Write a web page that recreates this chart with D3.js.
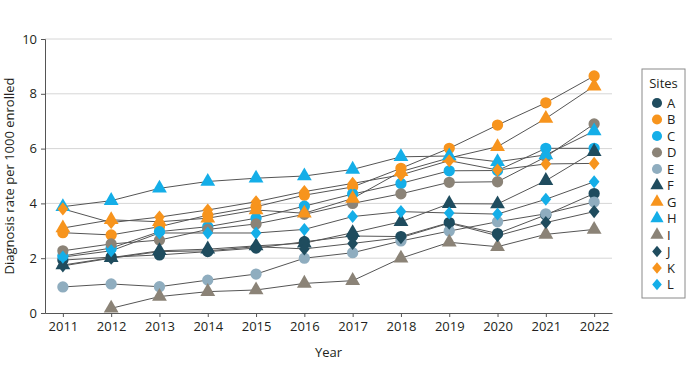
<!DOCTYPE html>
<html>
<head>
<meta charset="utf-8">
<script src="https://cdn.jsdelivr.net/npm/d3@7"></script>
<style>
  body { margin: 0; background: #fff; }
  text { font-family: "Open Sans", sans-serif; fill: #231f20; }
</style>
</head>
<body>
<div id="chart"></div>
<script>
// Years on the x axis
var years = [2011, 2012, 2013, 2014, 2015, 2016, 2017, 2018, 2019, 2020, 2021, 2022];
var yTicks = [0, 2, 4, 6, 8, 10];

// Diagnosis rate per 1000 enrolled, one array per site
var siteA = [1.93, 2.04, 2.12, 2.24, 2.37, 2.60, 2.81, 2.79, 3.30, 2.90, 3.58, 4.36];
var siteB = [2.93, 2.85, 3.15, 3.57, 3.88, 4.30, 4.60, 5.28, 6.01, 6.86, 7.67, 8.65];
var siteC = [2.08, 2.37, 2.97, 3.15, 3.46, 3.90, 4.34, 4.73, 5.19, 5.20, 6.01, 6.01];
var siteD = [2.27, 2.52, 2.66, 3.05, 3.25, 3.60, 4.00, 4.35, 4.77, 4.79, 5.70, 6.90];
var siteE = [0.95, 1.06, 0.96, 1.20, 1.42, 2.00, 2.20, 2.63, 2.99, 3.33, 3.62, 4.05];
var siteF = [1.75, 2.02, 2.27, 2.33, 2.45, 2.55, 2.93, 3.33, 3.99, 3.98, 4.83, 5.89];
var siteG = [3.10, 3.40, 3.33, 3.46, 3.76, 3.64, 4.18, 5.16, 5.66, 6.07, 7.10, 8.28];
var siteH = [3.88, 4.10, 4.55, 4.80, 4.92, 5.00, 5.24, 5.70, 5.73, 5.52, 5.77, 6.64];
var siteI = [null, 0.17, 0.60, 0.78, 0.84, 1.08, 1.18, 2.00, 2.58, 2.42, 2.87, 3.05];
var siteJ = [1.72, 2.00, 2.24, 2.27, 2.42, 2.34, 2.54, 2.75, 3.28, 2.82, 3.30, 3.70];
var siteK = [3.80, 3.30, 3.50, 3.76, 4.06, 4.43, 4.73, 5.04, 5.56, 5.22, 5.44, 5.46];
var siteL = [2.04, 2.27, 2.92, 2.92, 2.92, 3.05, 3.52, 3.70, 3.65, 3.61, 4.15, 4.79];

var siteNames = ["A", "B", "C", "D", "E", "F", "G", "H", "I", "J", "K", "L"];
var siteValues = [siteA, siteB, siteC, siteD, siteE, siteF, siteG, siteH, siteI, siteJ, siteK, siteL];

var dark = "#1f4c5e", orange = "#f7941d", blue = "#14aee8", taupe = "#8b8377", grayBlue = "#8fadbf";
var siteColors = [dark, orange, blue, taupe, grayBlue, dark, orange, blue, taupe, dark, orange, blue];
var siteShapes = ["circle", "circle", "circle", "circle", "circle",
                  "triangle", "triangle", "triangle", "triangle",
                  "diamond", "diamond", "diamond"];

var series = siteNames.map(function(name, i) {
  return {
    name: name, color: siteColors[i], shape: siteShapes[i],
    values: years.map(function(yr, j) { return {year: yr, value: siteValues[i][j]}; })
  };
});

var width = 689, height = 388;
var margin = {top: 39, right: 77, bottom: 75, left: 45};

var svg = d3.select("#chart").append("svg")
  .attr("width", width)
  .attr("height", height);

var x = d3.scalePoint()
  .domain(years)
  .range([margin.left, width - margin.right])
  .padding(0.37);

var y = d3.scaleLinear()
  .domain([0, 10])
  .range([height - margin.bottom, margin.top]);

// a wider diamond than d3.symbolDiamond, closer to the original markers
var wideDiamond = {
  draw: function(context, size) {
    var h = Math.sqrt(size) * 0.73, w = h * 0.82;
    context.moveTo(0, -h);
    context.lineTo(w, 0);
    context.lineTo(0, h);
    context.lineTo(-w, 0);
    context.closePath();
  }
};

function symbolFor(shape, scale) {
  scale = scale || 1;
  if (shape === "circle") return d3.symbol().type(d3.symbolCircle).size(100 * scale)();
  if (shape === "triangle") return d3.symbol().type(d3.symbolTriangle).size(95 * scale)();
  return d3.symbol().type(wideDiamond).size(80 * scale)();
}

// gridlines
svg.append("g")
  .selectAll("line")
  .data(yTicks.slice(1))
  .enter().append("line")
    .attr("x1", margin.left)
    .attr("x2", width - margin.right)
    .attr("y1", function(d) { return y(d); })
    .attr("y2", function(d) { return y(d); })
    .attr("stroke", "#d6d6d6")
    .attr("stroke-width", 1);

// y axis
var yAxis = svg.append("g")
  .attr("transform", "translate(" + margin.left + ",0)")
  .call(d3.axisLeft(y).tickValues(yTicks).tickSize(4).tickPadding(4));
yAxis.select(".domain").attr("stroke", "#555");
yAxis.selectAll(".tick line").attr("stroke", "#555");
yAxis.selectAll("text").style("font-size", "13px").style("font-family", "Open Sans, sans-serif");

// x axis
var xAxis = svg.append("g")
  .attr("transform", "translate(0," + (height - margin.bottom) + ")")
  .call(d3.axisBottom(x).tickSize(4).tickSizeOuter(0).tickPadding(5));
xAxis.select(".domain").attr("stroke", "#555");
xAxis.selectAll(".tick line").attr("stroke", "#555");
xAxis.selectAll("text").style("font-size", "13px").style("font-family", "Open Sans, sans-serif");

// axis titles
svg.append("text")
  .attr("x", (x(2011) + x(2022)) / 2)
  .attr("y", 357)
  .attr("text-anchor", "middle")
  .style("font-size", "13px")
  .text("Year");

svg.append("text")
  .attr("transform", "translate(14," + ((y(0) + y(10)) / 2) + ") rotate(-90)")
  .attr("text-anchor", "middle")
  .style("font-size", "13px")
  .text("Diagnosis rate per 1000 enrolled");

// lines
var line = d3.line()
  .defined(function(d) { return d.value != null; })
  .x(function(d) { return x(d.year); })
  .y(function(d) { return y(d.value); });

svg.append("g")
  .selectAll("path")
  .data(series)
  .enter().append("path")
    .attr("d", function(d) { return line(d.values); })
    .attr("fill", "none")
    .attr("stroke", "#555")
    .attr("stroke-width", 1);

// markers
svg.append("g")
  .selectAll("g")
  .data(series)
  .enter().append("g")
    .attr("fill", function(d) { return d.color; })
    .selectAll("path")
    .data(function(d) {
      return d.values.filter(function(v) { return v.value != null; })
        .map(function(v) { return {year: v.year, value: v.value, shape: d.shape}; });
    })
    .enter().append("path")
      .attr("d", function(d) { return symbolFor(d.shape); })
      .attr("transform", function(d) { return "translate(" + x(d.year) + "," + y(d.value) + ")"; });

// legend
var legendX = 642, legendY = 69;
svg.append("rect")
  .attr("x", legendX)
  .attr("y", legendY)
  .attr("width", 43)
  .attr("height", 229)
  .attr("fill", "#fff")
  .attr("stroke", "#8a8a8a")
  .attr("stroke-width", 1);

svg.append("text")
  .attr("x", legendX + 21.5)
  .attr("y", legendY + 19)
  .attr("text-anchor", "middle")
  .style("font-size", "13px")
  .text("Sites");

var legend = svg.selectAll(".legend")
  .data(series)
  .enter().append("g")
    .attr("class", "legend")
    .attr("transform", function(d, i) { return "translate(" + (legendX + 15) + "," + (legendY + 34 + i * 16.5) + ")"; });

legend.append("path")
  .attr("d", function(d) { return symbolFor(d.shape, 0.8); })
  .attr("fill", function(d) { return d.color; });

legend.append("text")
  .attr("x", 10)
  .attr("y", 0)
  .attr("dy", ".36em")
  .style("font-size", "13px")
  .text(function(d) { return d.name; });
</script>
</body>
</html>
